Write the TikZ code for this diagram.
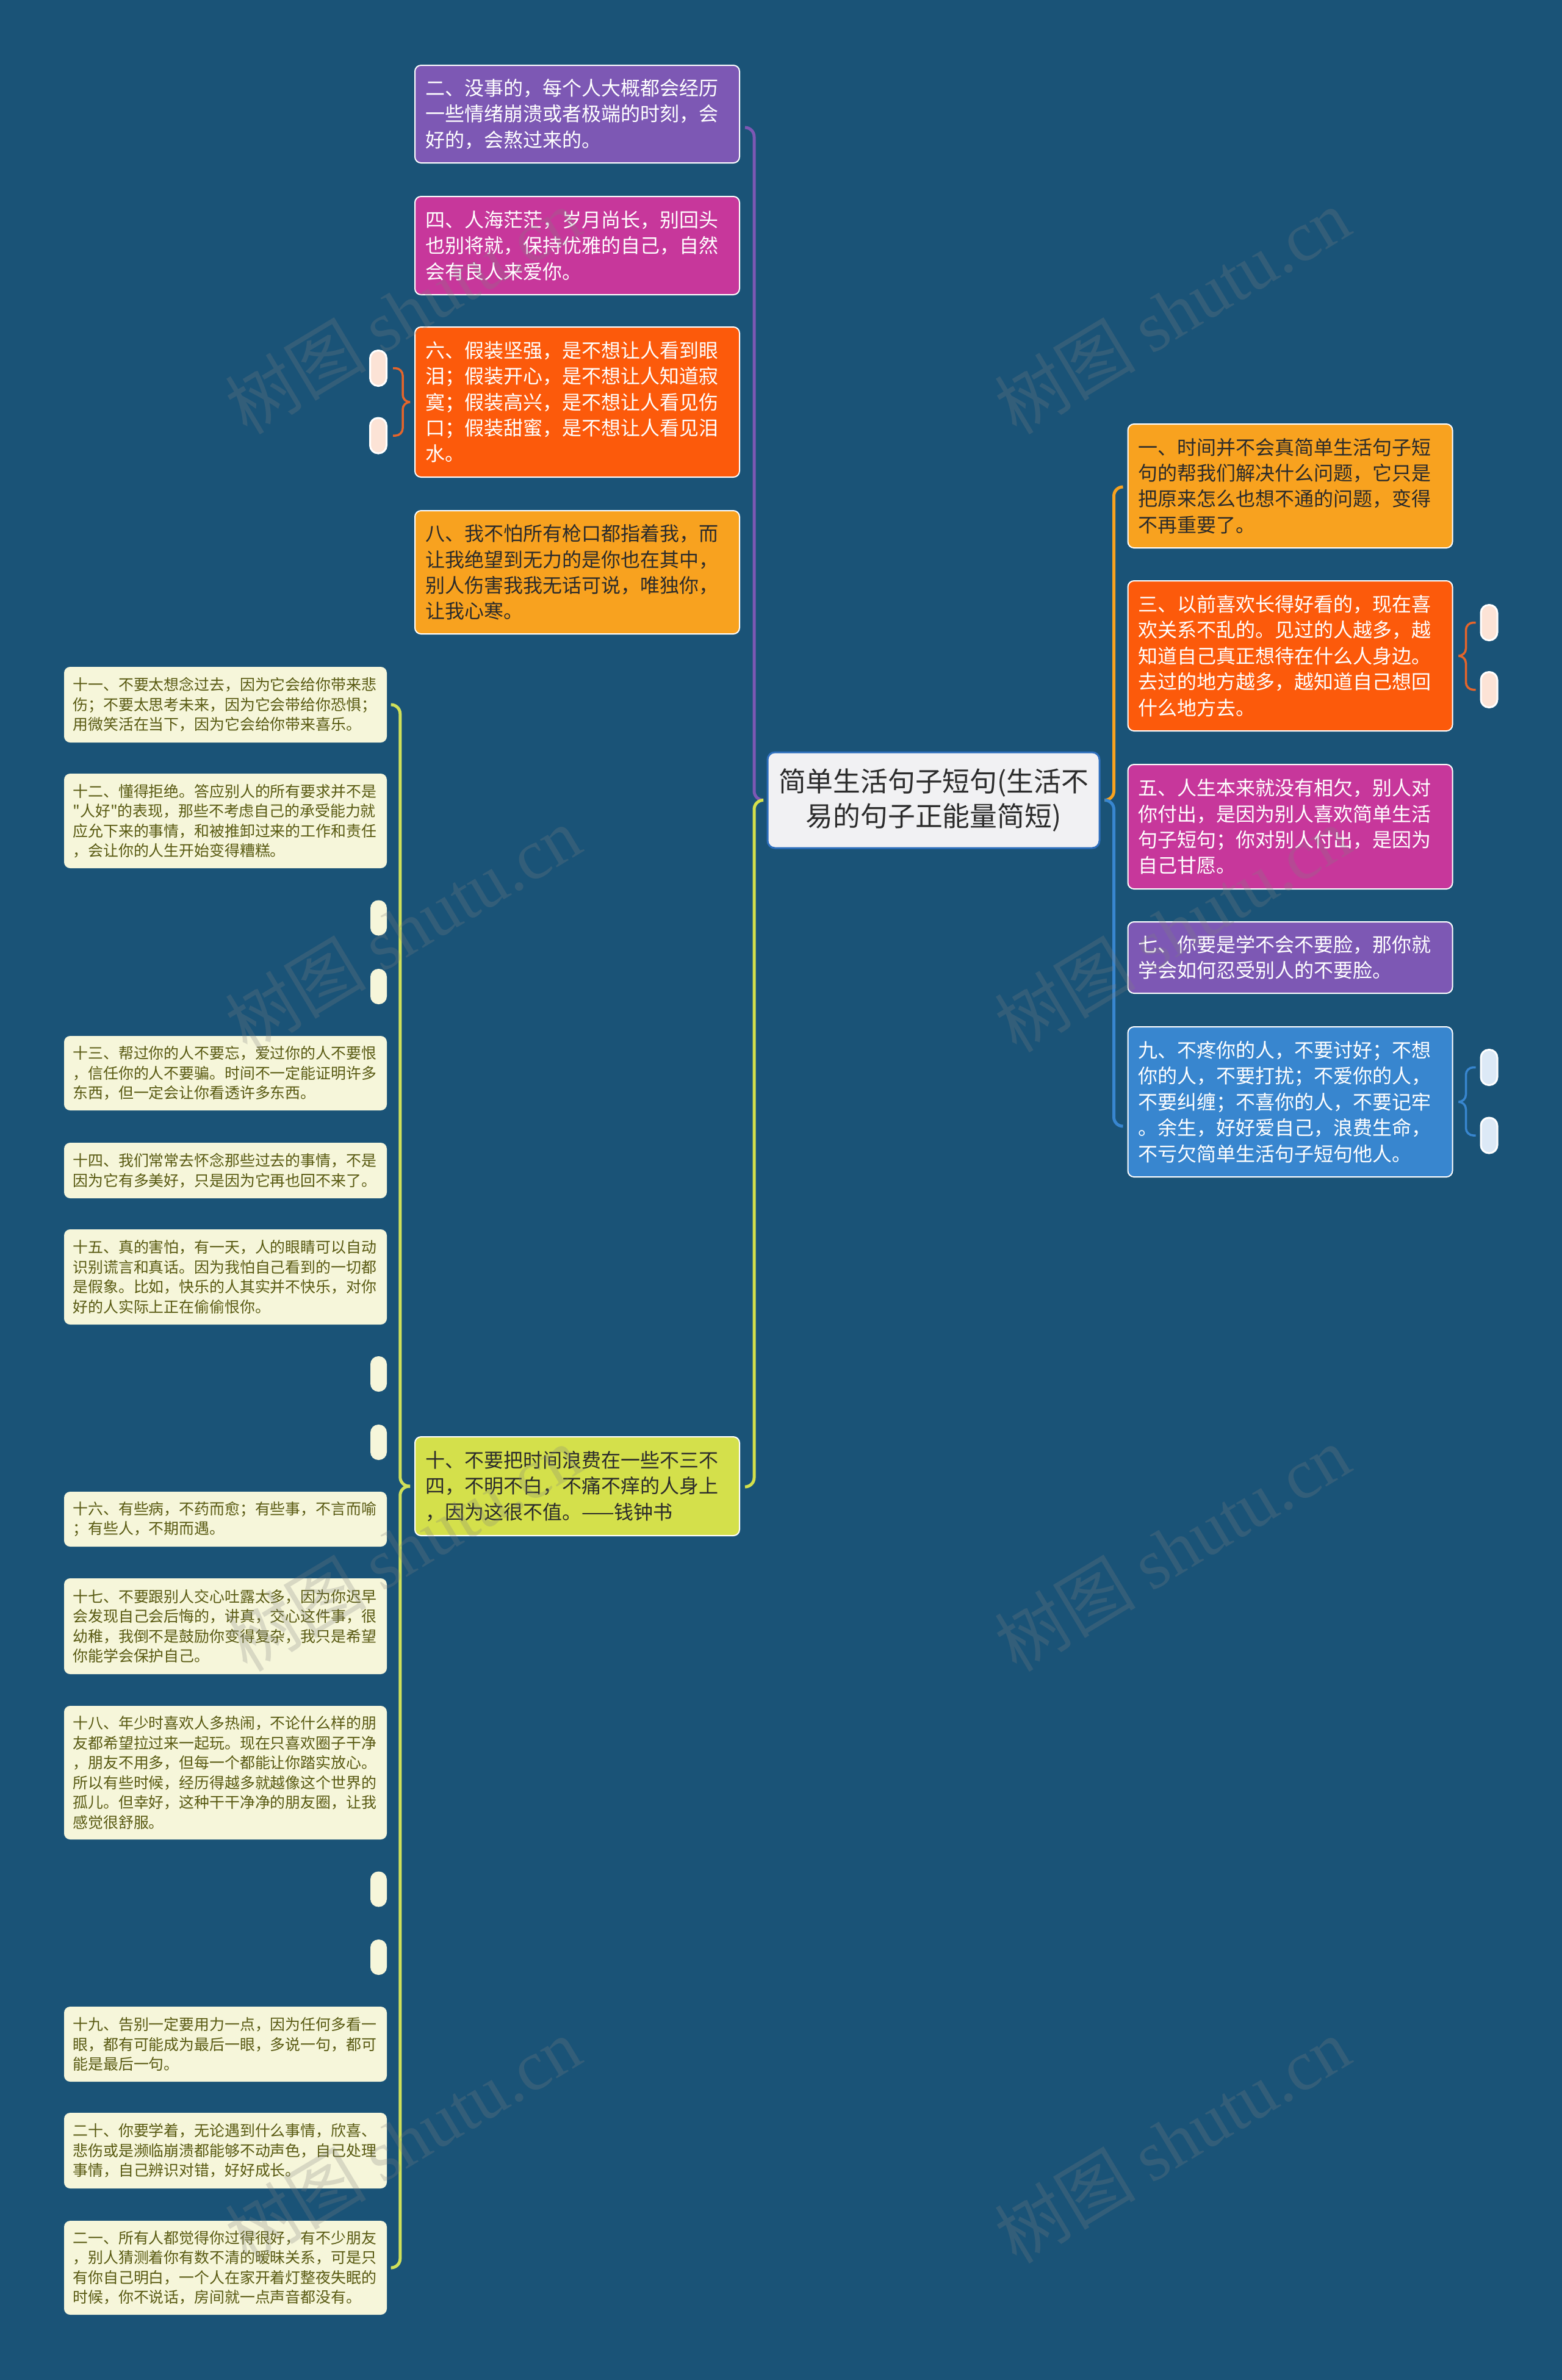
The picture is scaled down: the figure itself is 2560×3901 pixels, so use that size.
\documentclass[tikz,border=0pt]{standalone}
\usepackage{fontspec}
\setmainfont{Noto Sans CJK SC}
\newfontfamily\cjkf{Noto Sans CJK SC}
\newfontfamily\wmserif{Liberation Serif}
\usetikzlibrary{calc}
\newlength\pxu
\setlength\pxu{0.25pt}
\definecolor{bgc}{HTML}{1A5377}
\definecolor{cpurple}{HTML}{7D58B4}
\definecolor{cmagenta}{HTML}{C7379B}
\definecolor{corange}{HTML}{FC5A0B}
\definecolor{cyo}{HTML}{F8A21F}
\definecolor{cblue}{HTML}{3886CF}
\definecolor{cyg}{HTML}{D4E04B}
\definecolor{cygline}{HTML}{CFE05A}
\definecolor{ccream}{HTML}{F6F6DA}
\definecolor{colive}{HTML}{595A12}
\definecolor{cpeach}{HTML}{FCE3D6}
\definecolor{clblue}{HTML}{DCE9F6}
\definecolor{ccfill}{HTML}{F1F1F3}
\definecolor{ccborder}{HTML}{2E6FBD}
\definecolor{cbrace}{HTML}{E5652B}
\definecolor{cdark}{HTML}{2B2B2B}
\begin{document}
\begin{tikzpicture}[x=0.25pt, y=-0.25pt,
  mbox/.style={rounded corners=10\pxu, draw=white, line width=2\pxu, minimum width=532\pxu, text width=498\pxu, align=left, inner sep=0pt, font=\cjkf\fontsize{8pt}{10.6pt}\selectfont},
  sbox/.style={rounded corners=10\pxu, fill=ccream, minimum width=529\pxu, text width=500\pxu, align=left, inner sep=0pt, text=colive, font=\cjkf\fontsize{6.22pt}{8.125pt}\selectfont},
  cbox/.style={rounded corners=12\pxu, draw=ccborder, line width=3\pxu, fill=ccfill, minimum width=544\pxu, minimum height=157\pxu, align=center, inner sep=0pt, text=cdark, font=\cjkf\fontsize{11.2pt}{14.25pt}\selectfont},
  pill/.style={rounded corners=13\pxu, minimum width=27\pxu, minimum height=58\pxu, inner sep=0pt},
  conn/.style={line width=5\pxu, rounded corners=15\pxu},
  bracel/.style={line width=3.5\pxu, rounded corners=12\pxu},
  wm/.style={rotate=31, text=gray, opacity=0.25, font=\cjkf\fontsize{29pt}{29pt}\selectfont}
]
\useasboundingbox (0,0) rectangle (2560,3901);
\fill[bgc] (0,0) rectangle (2560,3901);

% ---------- nodes ----------
\node[cbox] (c) at (1530,1311.5) {简单生活句子短句(生活不\\易的句子正能量简短)};

\node[mbox, fill=cpurple, text=white, minimum height=160\pxu] (n2) at (946,187) {二、没事的，每个人大概都会经历\\一些情绪崩溃或者极端的时刻，会\\好的，会熬过来的。};
\node[mbox, fill=cmagenta, text=white, minimum height=161\pxu] (n4) at (946,402.5) {四、人海茫茫，岁月尚长，别回头\\也别将就，保持优雅的自己，自然\\会有良人来爱你。};
\node[mbox, fill=corange, text=white, minimum height=246\pxu] (n6) at (946,659) {六、假装坚强，是不想让人看到眼\\泪；假装开心，是不想让人知道寂\\寞；假装高兴，是不想让人看见伤\\口；假装甜蜜，是不想让人看见泪\\水。};
\node[mbox, fill=cyo, text=cdark, minimum height=202\pxu] (n8) at (946,938) {八、我不怕所有枪口都指着我，而\\让我绝望到无力的是你也在其中，\\别人伤害我我无话可说，唯独你，\\让我心寒。};
\node[mbox, fill=cyg, text=cdark, minimum height=162\pxu] (n10) at (946,2436) {十、不要把时间浪费在一些不三不\\四，不明不白，不痛不痒的人身上\\，因为这很不值。——钱钟书};

\node[mbox, fill=cyo, text=cdark, minimum height=203\pxu] (n1) at (2114.5,796.5) {一、时间并不会真简单生活句子短\\句的帮我们解决什么问题，它只是\\把原来怎么也想不通的问题，变得\\不再重要了。};
\node[mbox, fill=corange, text=white, minimum height=246\pxu] (n3) at (2114.5,1075) {三、以前喜欢长得好看的，现在喜\\欢关系不乱的。见过的人越多，越\\知道自己真正想待在什么人身边。\\去过的地方越多，越知道自己想回\\什么地方去。};
\node[mbox, fill=cmagenta, text=white, minimum height=204\pxu] (n5) at (2114.5,1355) {五、人生本来就没有相欠，别人对\\你付出，是因为别人喜欢简单生活\\句子短句；你对别人付出，是因为\\自己甘愿。};
\node[mbox, fill=cpurple, text=white, minimum height=117\pxu] (n7) at (2114.5,1569.5) {七、你要是学不会不要脸，那你就\\学会如何忍受别人的不要脸。};
\node[mbox, fill=cblue, text=white, minimum height=246\pxu] (n9) at (2114.5,1806) {九、不疼你的人，不要讨好；不想\\你的人，不要打扰；不爱你的人，\\不要纠缠；不喜你的人，不要记牢\\。余生，好好爱自己，浪费生命，\\不亏欠简单生活句子短句他人。};

\node[sbox, minimum height=124\pxu] (n11) at (369.5,1155) {十一、不要太想念过去，因为它会给你带来悲\\伤；不要太思考未来，因为它会带给你恐惧；\\用微笑活在当下，因为它会给你带来喜乐。};
\node[sbox, minimum height=155\pxu] (n12) at (369.5,1345.5) {十二、懂得拒绝。答应别人的所有要求并不是\\"人好"的表现，那些不考虑自己的承受能力就\\应允下来的事情，和被推卸过来的工作和责任\\，会让你的人生开始变得糟糕。};
\node[sbox, minimum height=122\pxu] (n13) at (369.5,1759) {十三、帮过你的人不要忘，爱过你的人不要恨\\，信任你的人不要骗。时间不一定能证明许多\\东西，但一定会让你看透许多东西。};
\node[sbox, minimum height=91\pxu] (n14) at (369.5,1918.5) {十四、我们常常去怀念那些过去的事情，不是\\因为它有多美好，只是因为它再也回不来了。};
\node[sbox, minimum height=156\pxu] (n15) at (369.5,2093) {十五、真的害怕，有一天，人的眼睛可以自动\\识别谎言和真话。因为我怕自己看到的一切都\\是假象。比如，快乐的人其实并不快乐，对你\\好的人实际上正在偷偷恨你。};
\node[sbox, minimum height=90\pxu] (n16) at (369.5,2490) {十六、有些病，不药而愈；有些事，不言而喻\\；有些人，不期而遇。};
\node[sbox, minimum height=157\pxu] (n17) at (369.5,2665.5) {十七、不要跟别人交心吐露太多，因为你迟早\\会发现自己会后悔的，讲真，交心这件事，很\\幼稚，我倒不是鼓励你变得复杂，我只是希望\\你能学会保护自己。};
\node[sbox, minimum height=219\pxu] (n18) at (369.5,2905.5) {十八、年少时喜欢人多热闹，不论什么样的朋\\友都希望拉过来一起玩。现在只喜欢圈子干净\\，朋友不用多，但每一个都能让你踏实放心。\\所以有些时候，经历得越多就越像这个世界的\\孤儿。但幸好，这种干干净净的朋友圈，让我\\感觉很舒服。};
\node[sbox, minimum height=123\pxu] (n19) at (369.5,3350.5) {十九、告别一定要用力一点，因为任何多看一\\眼，都有可能成为最后一眼，多说一句，都可\\能是最后一句。};
\node[sbox, minimum height=124\pxu] (n20) at (369.5,3525) {二十、你要学着，无论遇到什么事情，欣喜、\\悲伤或是濒临崩溃都能够不动声色，自己处理\\事情，自己辨识对错，好好成长。};
\node[sbox, minimum height=154\pxu] (n21) at (369.5,3717) {二一、所有人都觉得你过得很好，有不少朋友\\，别人猜测着你有数不清的暧昧关系，可是只\\有你自己明白，一个人在家开着灯整夜失眠的\\时候，你不说话，房间就一点声音都没有。};

% pills
\node[pill, fill=cpeach, draw=white, line width=3\pxu] (p6a) at (620,603.5) {};
\node[pill, fill=cpeach, draw=white, line width=3\pxu] (p6b) at (620,714) {};
\node[pill, fill=cpeach, draw=white, line width=3\pxu] (p3a) at (2440.5,1020.5) {};
\node[pill, fill=cpeach, draw=white, line width=3\pxu] (p3b) at (2440.5,1130.5) {};
\node[pill, fill=clblue, draw=white, line width=3\pxu] (p9a) at (2440.5,1749.5) {};
\node[pill, fill=clblue, draw=white, line width=3\pxu] (p9b) at (2440.5,1861) {};
\node[pill, fill=ccream] (pl1) at (620.5,1504.5) {};
\node[pill, fill=ccream] (pl2) at (620.5,1617) {};
\node[pill, fill=ccream] (pl3) at (620.5,2252) {};
\node[pill, fill=ccream] (pl4) at (620.5,2364) {};
\node[pill, fill=ccream] (pl5) at (620.5,3096.5) {};
\node[pill, fill=ccream] (pl6) at (620.5,3208) {};

% ---------- connectors ----------
\coordinate (jl) at ($(c.west)+(-8,0)$);
\coordinate (jr) at ($(c.east)+(8,0)$);
\draw[conn, cpurple] (jl) -| ($(n2.east)+(23,22)$) -- ($(n2.east)+(8,22)$);
\draw[conn, cyg] (jl) -| ($(n10.east)+(23,1)$) -- ($(n10.east)+(8,1)$);
\draw[conn, cyo] (jr) -| ($(n1.west)+(-22,1.5)$) -- ($(n1.west)+(-7,1.5)$);
\draw[conn, cblue] (jr) -| ($(n9.west)+(-22,40)$) -- ($(n9.west)+(-7,40)$);

\coordinate (t10) at ($(n10.west)+(-7,0)$);
\draw[conn, cygline] (t10) -| ($(n11.east)+(21,0)$) -- ($(n11.east)+(7,0)$);
\draw[conn, cygline] (t10) -| ($(n21.east)+(21,0)$) -- ($(n21.east)+(7,0)$);

\coordinate (t6) at ($(n6.west)+(-7,0)$);
\draw[bracel, cbrace] (t6) -| ($(p6a.east)+(25,0)$) -- ($(p6a.east)+(9,0)$);
\draw[bracel, cbrace] (t6) -| ($(p6b.east)+(25,0)$) -- ($(p6b.east)+(9,0)$);

\coordinate (t3) at ($(n3.east)+(9,0)$);
\draw[bracel, cbrace] (t3) -| ($(p3a.west)+(-23,0)$) -- ($(p3a.west)+(-7,0)$);
\draw[bracel, cbrace] (t3) -| ($(p3b.west)+(-23,0)$) -- ($(p3b.west)+(-7,0)$);

\coordinate (t9) at ($(n9.east)+(9,0)$);
\draw[bracel, cblue] (t9) -| ($(p9a.west)+(-23,0)$) -- ($(p9a.west)+(-7,0)$);
\draw[bracel, cblue] (t9) -| ($(p9b.west)+(-23,0)$) -- ($(p9b.west)+(-7,0)$);

% ---------- watermarks ----------
\foreach \i/\x/\y in {1/660/510, 2/1921/510, 3/660/1523, 4/1921/1523, 5/660/2538, 6/1921/2538, 7/660/3508, 8/1921/3508}
  \node[wm] (wm\i) at (\x,\y) {树图 {\wmserif shutu.cn}};
\end{tikzpicture}
\end{document}
